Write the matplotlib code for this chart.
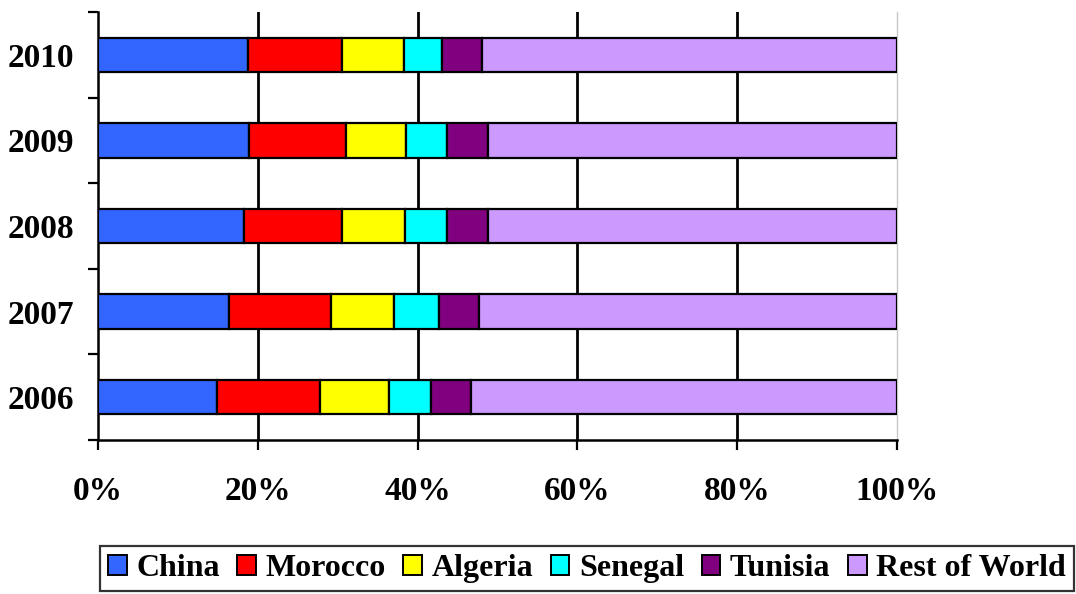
import matplotlib
matplotlib.use("Agg")
import matplotlib.pyplot as plt
import numpy as np

years = ["2006", "2007", "2008", "2009", "2010"]
series_names = ["China", "Morocco", "Algeria", "Senegal", "Tunisia", "Rest of World"]
china = [14.9, 16.4, 18.3, 18.9, 18.75]
morocco = [12.9, 12.7, 12.3, 12.1, 11.85]
algeria = [8.6, 8.0, 7.8, 7.5, 7.7]
senegal = [5.3, 5.6, 5.3, 5.2, 4.8]
tunisia = [5.0, 5.0, 5.1, 5.1, 5.0]
rest_of_world = [53.3, 52.3, 51.2, 51.2, 51.9]
x_ticks = [0, 20, 40, 60, 80, 100]
x_tick_labels = ["0%", "20%", "40%", "60%", "80%", "100%"]

colors = ["#3366FF", "#FF0000", "#FFFF00", "#00FFFF", "#800080", "#CC99FF"]

plt.rcParams["font.family"] = ["Liberation Serif", "DejaVu Serif"]
plt.rcParams["font.weight"] = "bold"

fig = plt.figure(figsize=(10.76, 5.94), dpi=100)
ax = fig.add_axes([98 / 1076, 1 - 440 / 594, (897 - 98) / 1076, (440 - 12) / 594])

values = [china, morocco, algeria, senegal, tunisia, rest_of_world]
pos = np.arange(len(years))
left = np.zeros(len(years))
handles = []
for name, vals, col in zip(series_names, values, colors):
    vals = np.array(vals, dtype=float)
    h = ax.barh(pos, vals, left=left, height=0.4, color=col,
                edgecolor="black", linewidth=1.6, label=name, zorder=3)
    handles.append(h)
    left += vals

ax.set_xlim(0, 100)
ax.set_ylim(-0.5, len(years) - 0.5)

# vertical gridlines at the major x ticks
for xv in x_ticks[1:-1]:
    ax.axvline(xv, color="black", linewidth=2.0, zorder=1)

ax.set_xticks(x_ticks)
ax.set_xticklabels(x_tick_labels, fontsize=24, fontweight="bold")
ax.set_yticks(pos)
ax.set_yticklabels(years, fontsize=24, fontweight="bold")
ax.set_yticks(np.arange(-0.5, len(years)), minor=True)

ax.tick_params(axis="y", which="major", length=0, pad=17)
ax.tick_params(axis="y", which="minor", length=7, width=1.6, direction="out")
ax.tick_params(axis="x", which="major", length=7, width=1.6, direction="out", pad=19)

ax.spines["top"].set_visible(False)
ax.spines["right"].set_color("#c8c8c8")
ax.spines["right"].set_linewidth(1.0)
ax.spines["left"].set_linewidth(1.8)
ax.spines["bottom"].set_linewidth(1.8)

leg = fig.legend(handles=handles, labels=series_names, loc="lower left",
                 bbox_to_anchor=(100 / 1076, 3 / 594, (1074 - 100) / 1076, 50 / 594),
                 ncol=6, mode="expand", frameon=True, fancybox=False,
                 prop={"size": 23, "weight": "bold"},
                 handlelength=0.58, handleheight=0.58, handletextpad=0.3,
                 columnspacing=0.5, borderpad=0.25, borderaxespad=0)
leg.get_frame().set_edgecolor("black")
leg.get_frame().set_linewidth(1.6)
for p in leg.get_patches():
    p.set_linewidth(1.4)

fig.savefig("out.png", dpi=100, facecolor="white")
